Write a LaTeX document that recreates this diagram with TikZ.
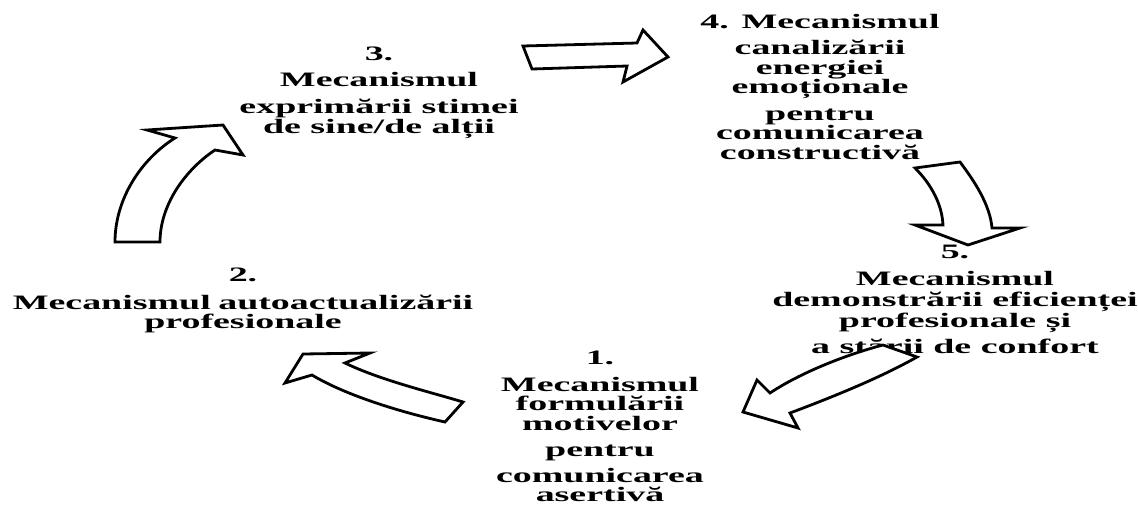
\documentclass[tikz,border=0pt]{standalone}
\usepackage{fontspec}
\setmainfont{Liberation Serif}[FakeStretch=1.85]
\begin{document}
\begin{tikzpicture}[x=1pt,y=-1pt,
  mech/.style={align=center, inner sep=0pt, anchor=north,
    font=\bfseries\fontsize{20.5}{19.5}\selectfont},
  blockarrow/.style={draw=black, fill=white, line width=2.8pt, line join=miter}]
\useasboundingbox (0,0) rectangle (1138,506);

% the five mechanisms
\node[mech] (m3) at (379,47) {3.\\[6pt] Mecanismul\\[8pt] exprimării stimei\\ de sine/de alții};
\node[mech] (m4) at (820,14) {4. Mecanismul\\[7pt] canalizării\\ energiei\\ emoționale\\[7pt] pentru\\ comunicarea\\ constructivă};
\node[mech] (m5) at (955,245) {5.\\[7pt] Mecanismul\\[2pt] demonstrării eficienței\\ profesionale și\\[6pt] a stării de confort};
\node[mech] (m1) at (600,351) {1.\\[7pt] Mecanismul\\ formulării\\ motivelor\\[7pt] pentru\\[6pt] comunicarea\\ asertivă};
\node[mech] (m2) at (243,268) {2.\\[8pt] Mecanismul\hspace{-2pt} autoactualizării\\ profesionale};

% block arrows closing the cycle 1 -> 2 -> 3 -> 4 -> 5 -> 1
% 3 -> 4
\draw[blockarrow] (523,46) -- (637,43) -- (643,30) -- (668,57) -- (623,82)
  -- (627,66) -- (532,69) -- cycle;
% 4 -> 5
\draw[blockarrow] (915,168) -- (960,162)
  .. controls (975,182) and (990,205) .. (992,228)
  -- (1020,228) -- (968,245) -- (915,225) -- (943,225)
  .. controls (942,205) and (932,185) .. cycle;
% 5 -> 1
\draw[blockarrow] (883,345) -- (917,357)
  .. controls (880,378) and (830,398) .. (790,413)
  -- (798,428) -- (743,412) -- (757,380) -- (770,393)
  .. controls (800,373) and (845,355) .. cycle;
% 1 -> 2
\draw[blockarrow] (463,402) -- (445,422)
  .. controls (400,412) and (345,395) .. (312,375)
  -- (285,383) -- (303,354) -- (370,353) -- (345,363)
  .. controls (380,380) and (430,392) .. cycle;
% 2 -> 3
\draw[blockarrow] (115,242) -- (160,242)
  .. controls (160,205) and (185,170) .. (215,150)
  -- (243,155) -- (223,125) -- (147,130) -- (175,138)
  .. controls (140,160) and (115,200) .. cycle;
\end{tikzpicture}
\end{document}
